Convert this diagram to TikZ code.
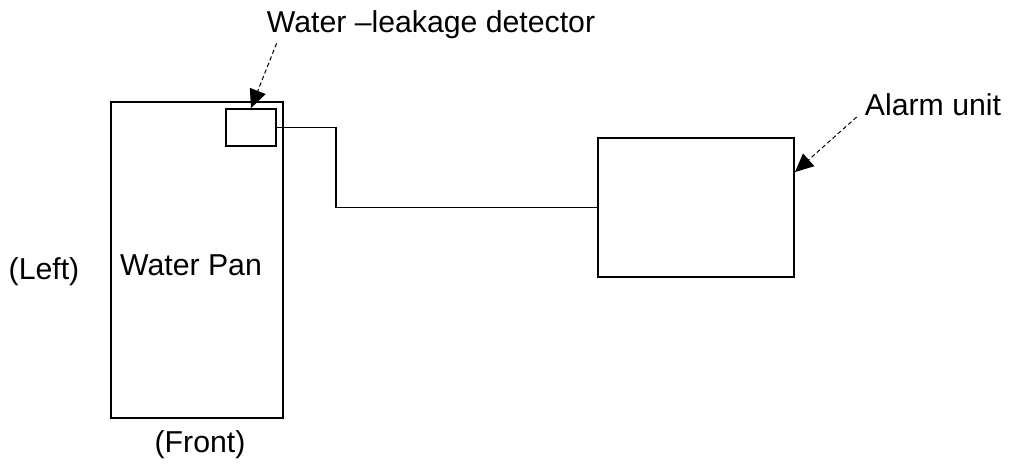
\documentclass[tikz,border=0pt]{standalone}
\usepackage{fontspec}
\setmainfont{Liberation Sans}
\usetikzlibrary{arrows.meta,calc}
\tikzset{
  panbox/.style={draw, line width=1.3pt, minimum width=4.3cm, minimum height=7.9cm, inner sep=0pt},
  detbox/.style={draw, line width=1.3pt, minimum width=1.25cm, minimum height=0.925cm, inner sep=0pt},
  alarmbox/.style={draw, line width=1.3pt, minimum width=4.9cm, minimum height=3.475cm, inner sep=0pt},
  wire/.style={line width=1.3pt},
  leader/.style={-{Triangle[length=4.6mm,width=4.2mm]}, densely dashed, line width=0.7pt},
  lbl/.style={inner sep=0pt, font=\fontsize{21.5}{25}\selectfont}
}
\begin{document}
\begin{tikzpicture}[x=0.025cm, y=-0.025cm]
\useasboundingbox (0,0) rectangle (1016,464);
\node[panbox] (pan) at (197,260) {};
\node[detbox] (det) at (251,127.5) {};
\node[alarmbox] (alarm) at (696,207.5) {};
\node[lbl] (detlabel) at (431,25) {Water --leakage detector};
\node[lbl] (alarmlabel) at (933,105) {Alarm unit};
\node[lbl] (panlabel) at (191,265) {Water Pan};
\node[lbl] (left) at (44,272) {(Left)};
\node[lbl] (front) at (200,445) {(Front)};
% wire from detector to alarm
\draw[wire] (det.east) -- ++(59,0) |- (alarm.west);
% leader arrows
\draw[leader] (detlabel.south west) ++(10,4) -- (det.north);
\draw[leader] (alarmlabel.west) ++(-8,12) -- ($(alarm.north east)+(0,35)$);
\end{tikzpicture}
\end{document}
